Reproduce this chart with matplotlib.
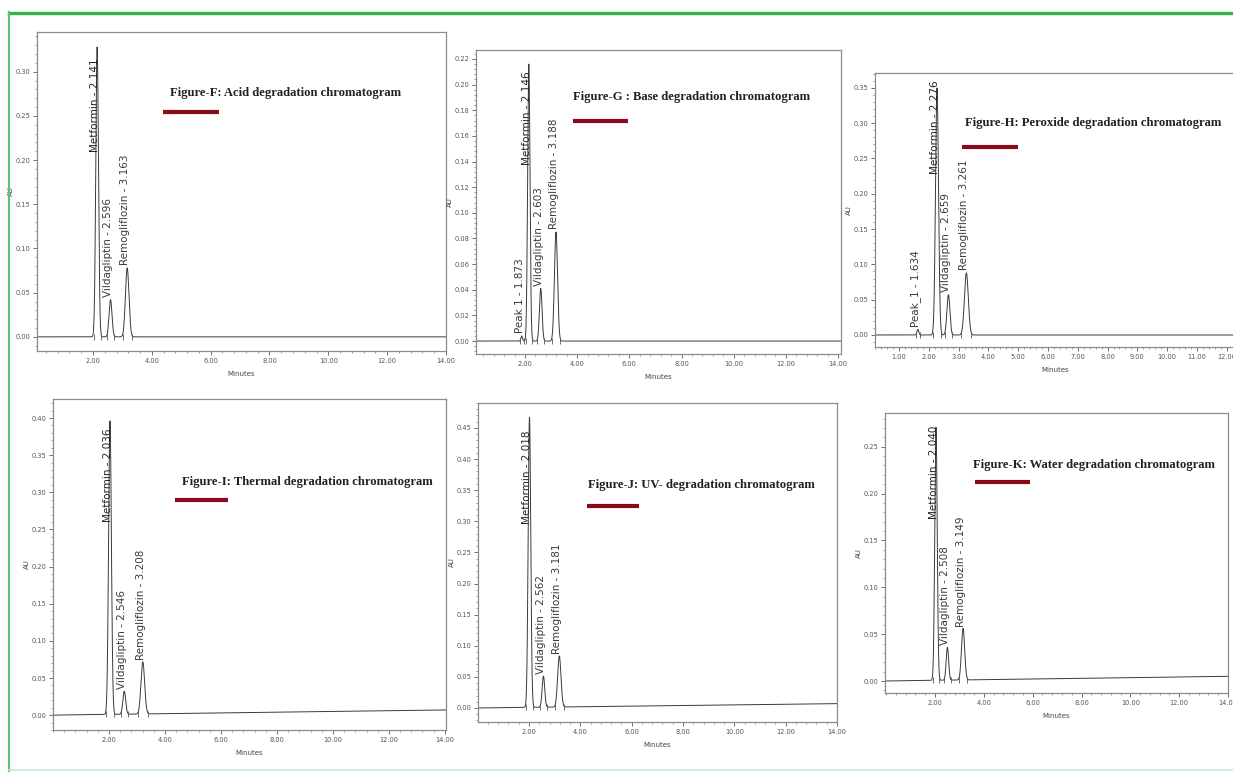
import numpy as np
import matplotlib
matplotlib.use("Agg")
import matplotlib.pyplot as plt
from matplotlib.lines import Line2D
from matplotlib.ticker import MultipleLocator, FormatStrFormatter

W, H = 1233, 772

# ---- data (retention time in min, height in AU) ----
# Figure-F: acid
f_names = ["Metformin", "Vildagliptin", "Remogliflozin"]
f_rt = [2.141, 2.596, 3.163]
f_height = [0.328, 0.042, 0.078]
f_sigma = [0.045, 0.05, 0.06]
f_base = [0.0, 0.0]

# Figure-G: base
g_names = ["Peak 1", "Metformin", "Vildagliptin", "Remogliflozin"]
g_rt = [1.873, 2.146, 2.603, 3.188]
g_height = [0.004, 0.216, 0.041, 0.085]
g_sigma = [0.03, 0.045, 0.05, 0.06]
g_base = [0.0, 0.0]

# Figure-H: peroxide
h_names = ["Peak_1", "Metformin", "Vildagliptin", "Remogliflozin"]
h_rt = [1.634, 2.276, 2.659, 3.261]
h_height = [0.008, 0.350, 0.057, 0.088]
h_sigma = [0.03, 0.05, 0.05, 0.065]
h_base = [0.0, 0.0]

# Figure-I: thermal
i_names = ["Metformin", "Vildagliptin", "Remogliflozin"]
i_rt = [2.036, 2.546, 3.208]
i_height = [0.395, 0.031, 0.070]
i_sigma = [0.05, 0.05, 0.065]
i_base = [0.0, 0.007]

# Figure-J: UV
j_names = ["Metformin", "Vildagliptin", "Remogliflozin"]
j_rt = [2.018, 2.562, 3.181]
j_height = [0.466, 0.050, 0.082]
j_sigma = [0.05, 0.05, 0.065]
j_base = [0.0, 0.007]

# Figure-K: water
k_names = ["Metformin", "Vildagliptin", "Remogliflozin"]
k_rt = [2.040, 2.508, 3.149]
k_height = [0.270, 0.035, 0.055]
k_sigma = [0.05, 0.05, 0.065]
k_base = [0.0, 0.005]

# ---- layout (pixel boxes, axis ranges, captions) ----
panels = [
    dict(names=f_names, rt=f_rt, h=f_height, s=f_sigma, base=f_base,
         box=(37, 32, 446, 351), xlim=(0.097, 14.0), ylim=(-0.016, 0.345),
         xmaj=2, ystep=0.05, ytop=0.30, top_label=0.206,
         title="Figure-F: Acid degradation chromatogram", tpos=(170, 93), bar=(163, 219, 112)),
    dict(names=g_names, rt=g_rt, h=g_height, s=g_sigma, base=g_base,
         box=(476, 50, 841, 354), xlim=(0.121, 14.115), ylim=(-0.0101, 0.227),
         xmaj=2, ystep=0.02, ytop=0.22, top_label=0.135,
         title="Figure-G : Base degradation chromatogram", tpos=(573, 97), bar=(573, 628, 121)),
    dict(names=h_names, rt=h_rt, h=h_height, s=h_sigma, base=h_base,
         box=(875, 73, 1236, 347), xlim=(0.195, 12.31), ylim=(-0.017, 0.371),
         xmaj=1, ystep=0.05, ytop=0.35, top_label=0.224,
         title="Figure-H: Peroxide degradation chromatogram", tpos=(965, 123), bar=(962, 1018, 147)),
    dict(names=i_names, rt=i_rt, h=i_height, s=i_sigma, base=i_base,
         box=(53, 399, 446, 730), xlim=(0.0, 14.04), ylim=(-0.020, 0.4256),
         xmaj=2, ystep=0.05, ytop=0.40, top_label=0.256,
         title="Figure-I: Thermal degradation chromatogram", tpos=(182, 482), bar=(175, 228, 500)),
    dict(names=j_names, rt=j_rt, h=j_height, s=j_sigma, base=j_base,
         box=(478, 403, 837, 722), xlim=(0.013, 14.0), ylim=(-0.0225, 0.490),
         xmaj=2, ystep=0.05, ytop=0.45, top_label=0.291,
         title="Figure-J: UV- degradation chromatogram", tpos=(588, 485), bar=(587, 639, 506)),
    dict(names=k_names, rt=k_rt, h=k_height, s=k_sigma, base=k_base,
         box=(885, 413, 1228, 693), xlim=(-0.048, 14.0), ylim=(-0.0128, 0.286),
         xmaj=2, ystep=0.05, ytop=0.25, top_label=0.170,
         title="Figure-K: Water degradation chromatogram", tpos=(973, 465), bar=(975, 1030, 482)),
]

fig = plt.figure(figsize=(W / 100, H / 100), dpi=100)
fig.patch.set_facecolor("white")


def px(x, y):
    return x / W, 1 - y / H


def draw_panel(p):
    l, t, r, b = p["box"]
    ax = fig.add_axes([l / W, 1 - b / H, (r - l) / W, (b - t) / H])

    x = np.linspace(p["xlim"][0], p["xlim"][1], 6000)
    b0, b1 = p["base"]
    base = b0 + (b1 - b0) * (x - x[0]) / (x[-1] - x[0])
    y = base.copy()
    for rt, hh, s in zip(p["rt"], p["h"], p["s"]):
        y += hh * np.exp(-0.5 * ((x - rt) / s) ** 2)
    ax.plot(x, y, color="#3a3a3a", lw=0.7)

    tallest = int(np.argmax(p["h"]))
    for k, (name, rt, hh, s) in enumerate(zip(p["names"], p["rt"], p["h"], p["s"])):
        # integration marks at peak start / end
        for edge in (rt - 2.6 * s, rt + 2.6 * s):
            be = np.interp(edge, x, base)
            ax.plot([edge], [be], ls="none", marker="|", ms=4, mew=0.6, color="#555555")
        ly = p["top_label"] if k == tallest else hh
        ax.annotate(f"{name} - {rt:.3f}", xy=(rt, ly), xytext=(-1.5, 2),
                    textcoords="offset points", rotation=90, ha="center", va="bottom",
                    fontsize=7.5, color="#222222" if k == tallest else "#3a3a3a")

    ax.set_xlim(*p["xlim"])
    ax.set_ylim(*p["ylim"])
    ax.set_xticks(np.arange(p["xmaj"], p["xlim"][1] + 1e-6, p["xmaj"]))
    ax.xaxis.set_minor_locator(MultipleLocator(p["xmaj"] / 5))
    ax.set_yticks(np.arange(0, p["ytop"] + 1e-6, p["ystep"]))
    ax.yaxis.set_minor_locator(MultipleLocator(p["ystep"] / 5))
    ax.xaxis.set_major_formatter(FormatStrFormatter("%.2f"))
    ax.yaxis.set_major_formatter(FormatStrFormatter("%.2f"))
    ax.tick_params(which="major", length=3, width=0.6, pad=2, labelsize=4.8,
                   colors="#555555")
    ax.tick_params(which="minor", length=1.5, width=0.5, colors="#777777")
    ax.set_xlabel("Minutes", fontsize=5, color="#444444", labelpad=5)
    ax.set_ylabel("AU", fontsize=5, color="#444444", labelpad=1)
    for sp in ax.spines.values():
        sp.set_color("#8c8c8c")
        sp.set_linewidth(0.9)

    tx, ty = p["tpos"]
    fig.text(*px(tx, ty), p["title"], family="Liberation Serif", weight="bold",
             fontsize=9.1, color="#222222", ha="left", va="center")
    x0, x1, yb = p["bar"]
    fig.add_artist(Line2D([x0 / W, x1 / W], [1 - yb / H] * 2, lw=3, color="#8b0a1a",
                          solid_capstyle="butt"))


for p in panels:
    draw_panel(p)

# green page border
fig.add_artist(Line2D([9 / W, 1.0], [1 - 13 / H] * 2, lw=2.4, color="#35b44a"))
fig.add_artist(Line2D([9 / W] * 2, [1 - 12 / H, 0.0], lw=1.6, color="#5cc46c"))
fig.add_artist(Line2D([9 / W, 1.0], [1 - 770 / H] * 2, lw=1.2, color="#c6ebcc"))

fig.savefig("out.png", dpi=100, facecolor="white")
